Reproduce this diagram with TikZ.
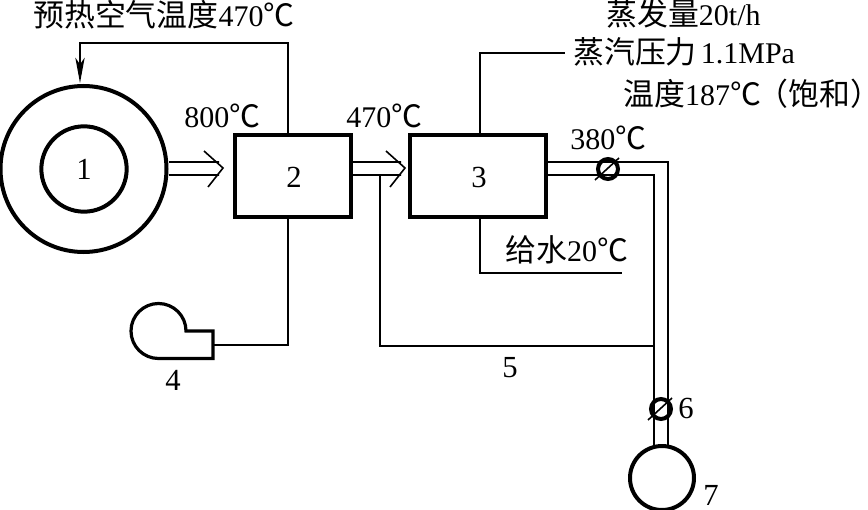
\documentclass[tikz,border=0pt]{standalone}
\usepackage{fontspec}
\setmainfont{Liberation Serif}
\newfontfamily\cjk{Noto Sans CJK SC}[Scale=1.03]
\newfontfamily\cjkhalf{Noto Sans CJK SC}[Scale=1.03,RawFeature=+halt]
\usetikzlibrary{arrows.meta}
\tikzset{
  thickshape/.style={draw,line width=3pt,inner sep=0pt},
  vessel/.style={thickshape,circle},
  unitbox/.style={thickshape,rectangle},
  valvering/.style={draw,circle,line width=3pt,minimum size=15pt,inner sep=0pt},
  pipe/.style={line width=1.2pt},
  lbl/.style={font=\fontsize{22.5}{26}\selectfont,inner sep=0pt,anchor=west},
  num/.style={font=\fontsize{23}{26}\selectfont,inner sep=0pt},
}
\begin{document}
\begin{tikzpicture}[x=0.75pt,y=-0.75pt]
\useasboundingbox (0,0) rectangle (868,510);
% main units
\node[vessel,minimum size=124.5pt] (outer) at (83.5,169) {};
\node[vessel,minimum size=64pt] (inner) at (84,169) {};
\node[num] (n1) at (84,169) {1};
\node[unitbox,minimum width=87pt,minimum height=62pt] (b2) at (293,176) {};
\node[num] (n2) at (294,177) {2};
\node[unitbox,minimum width=102pt,minimum height=62pt] (b3) at (478,176) {};
\node[num] (n3) at (479,177) {3};
\node[vessel,minimum size=48pt] (c7) at (662,478) {};
\node[valvering] (v1) at (608,169) {};
\node[valvering] (v2) at (661,409) {};
% coordinates
\coordinate (a1s) at (169,162); \coordinate (a1t) at (169,175);
\coordinate (a1tip) at (223,168); \coordinate (a1u) at (204,151); \coordinate (a1d) at (208,187);
\coordinate (a1e) at (219,162); \coordinate (a1f) at (219,175);
\coordinate (a2s) at (351,162); \coordinate (a2t) at (351,175);
\coordinate (a2tip) at (405,168); \coordinate (a2u) at (386,151); \coordinate (a2d) at (390,187);
\coordinate (a2e) at (401,162); \coordinate (a2f) at (401,175);
% hollow arrows
\draw[pipe] (a1s) -- (a1e) (a1t) -- (a1f) (a1u) -- (a1tip) -- (a1d);
\draw[pipe] (a2s) -- (a2e) (a2t) -- (a2f) (a2u) -- (a2tip) -- (a2d);
% air loop
\draw[pipe,-{Stealth[length=19pt,width=7pt,inset=5pt]}] (288,135) -- (288,43) -- (80,43) -- (80,83);
% steam line
\coordinate (steamEnd) at (565,53);
\draw[pipe] (480,135) -- (480,53) -- (steamEnd);
% feed water
\coordinate (feedEnd) at (622,273);
\draw[pipe] (480,217) -- (480,273) -- (feedEnd);
% blower
\draw[line width=2.4pt,line join=miter] (186,331) arc[start angle=0,delta angle=-270,radius=27.5] -- (213,358.5) -- (213,331) -- cycle;
\coordinate (blowerOut) at (213,345);
\draw[pipe] (288,217) -- (288,345) -- (blowerOut);
% recirculation
\draw[pipe] (380,175) -- (380,346) -- (654,346);
% exhaust pipes
\draw[pipe] (546,162) -- (668,162) -- (668,446);
\draw[pipe] (546,175) -- (654,175) -- (654,446);
% valve slashes
\draw[pipe] (595,180) -- (619,158);
\draw[pipe] (648,420) -- (672,398);
% labels
\node[lbl] (t1) at (33,15) {\cjk 预热空气温度{\rmfamily 470}℃};
\node[lbl] (t2) at (606,14) {\cjk 蒸发量{\rmfamily 20t/h}};
\node[lbl] (t3) at (573,52) {\cjk 蒸汽压力{\rmfamily\kern3pt 1.1MPa}};
\node[lbl] (t4) at (623,94) {\cjk 温度{\rmfamily 187}℃\kern9pt{\cjkhalf （}饱和{\cjkhalf ）}};
\node[lbl] (t5) at (184,116) {800{\cjk ℃}};
\node[lbl] (t6) at (346,116) {470{\cjk ℃}};
\node[lbl] (t7) at (570,138) {380{\cjk ℃}};
\node[lbl] (t8) at (505,250) {\cjk 给水{\rmfamily 20}℃};
\node[num] (n4) at (173,380) {4};
\node[num] (n5) at (510,368) {5};
\node[num] (n6) at (686,408) {6};
\node[num] (n7) at (711,495) {7};
\end{tikzpicture}
\end{document}
